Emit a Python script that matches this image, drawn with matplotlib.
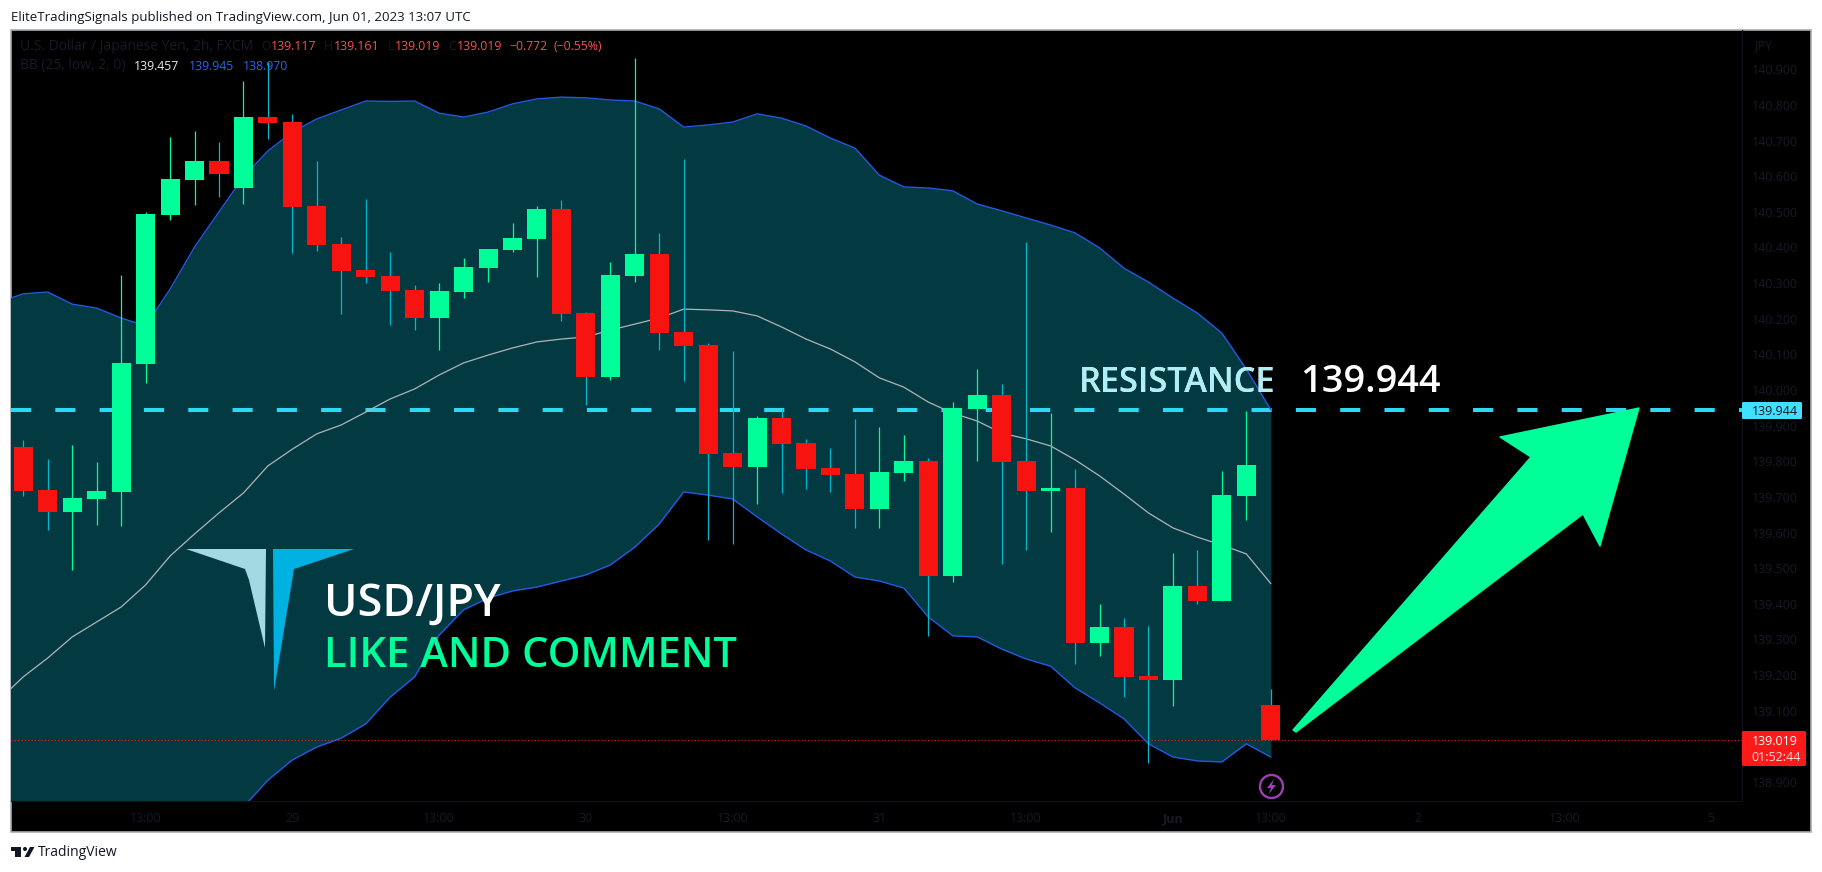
import numpy as np
import matplotlib
matplotlib.use("Agg")
import matplotlib.pyplot as plt
from matplotlib.patches import Polygon, Rectangle, Circle, FancyBboxPatch

# 2h USD/JPY candles
opens = [139.840, 139.719, 139.657, 139.694, 139.714, 140.073, 140.491, 140.589, 140.643, 140.567,
         140.766, 140.752, 140.516, 140.410, 140.337, 140.320, 140.281, 140.202, 140.275, 140.342,
         140.393, 140.424, 140.508, 140.216, 140.037, 140.320, 140.382, 140.163, 140.126, 139.823,
         139.784, 139.921, 139.851, 139.781, 139.764, 139.666, 139.767, 139.801, 139.478, 139.947,
         139.986, 139.801, 139.716, 139.725, 139.290, 139.335, 139.198, 139.186, 139.450, 139.408,
         139.703, 139.117]
highs = [139.860, 139.807, 139.846, 139.798, 140.323, 140.500, 140.710, 140.727, 140.696, 140.867,
         140.921, 140.775, 140.643, 140.429, 140.536, 140.387, 140.295, 140.300, 140.371, 140.396,
         140.469, 140.516, 140.533, 140.219, 140.359, 140.932, 140.441, 140.648, 140.132, 140.110,
         139.927, 139.947, 139.862, 139.837, 139.919, 139.896, 139.874, 139.809, 139.966, 140.059,
         140.017, 140.415, 139.935, 139.778, 139.399, 139.360, 139.338, 139.543, 139.551, 139.773,
         139.941, 139.161]
lows = [139.702, 139.607, 139.495, 139.621, 139.618, 140.020, 140.477, 140.519, 140.542, 140.522,
        140.705, 140.385, 140.390, 140.213, 140.300, 140.182, 140.168, 140.112, 140.258, 140.303,
        140.387, 140.317, 140.194, 139.958, 140.028, 140.303, 140.112, 140.025, 139.579, 139.568,
        139.680, 139.711, 139.722, 139.714, 139.613, 139.613, 139.745, 139.310, 139.461, 139.801,
        139.512, 139.551, 139.602, 139.231, 139.254, 139.138, 138.953, 139.113, 139.400, 139.408,
        139.635, 139.019]
closes = [139.716, 139.657, 139.697, 139.716, 140.076, 140.494, 140.592, 140.643, 140.606, 140.766,
          140.749, 140.514, 140.407, 140.334, 140.317, 140.278, 140.202, 140.278, 140.345, 140.396,
          140.427, 140.508, 140.213, 140.037, 140.323, 140.382, 140.160, 140.124, 139.820, 139.784,
          139.921, 139.849, 139.778, 139.761, 139.666, 139.770, 139.801, 139.478, 139.949, 139.986,
          139.798, 139.716, 139.725, 139.290, 139.335, 139.195, 139.186, 139.450, 139.408, 139.705,
          139.790, 139.019]

# bollinger bands, the first value is the bar left of the first candle
bb_upper = [140.247, 140.270, 140.275, 140.241, 140.230, 140.202, 140.180, 140.283, 140.401, 140.500,
            140.598, 140.671, 140.724, 140.761, 140.786, 140.811, 140.810, 140.811, 140.777, 140.766,
            140.780, 140.803, 140.817, 140.822, 140.820, 140.814, 140.811, 140.789, 140.738, 140.744,
            140.752, 140.775, 140.763, 140.741, 140.707, 140.679, 140.603, 140.570, 140.567, 140.559,
            140.522, 140.503, 140.483, 140.463, 140.441, 140.399, 140.342, 140.303, 140.258, 140.216,
            140.160, 140.059, 139.945]
bb_mid = [139.130, 139.195, 139.248, 139.307, 139.349, 139.391, 139.453, 139.534, 139.596, 139.655,
          139.711, 139.787, 139.834, 139.877, 139.902, 139.938, 139.975, 140.003, 140.042, 140.076,
          140.098, 140.118, 140.135, 140.143, 140.149, 140.168, 140.185, 140.202, 140.227, 140.225,
          140.222, 140.208, 140.177, 140.143, 140.115, 140.079, 140.034, 140.008, 139.966, 139.935,
          139.913, 139.879, 139.863, 139.843, 139.804, 139.759, 139.708, 139.655, 139.613, 139.587,
          139.565, 139.540, 139.457]
bb_lower = [138.610, 138.600, 138.600, 138.600, 138.610, 138.620, 138.640, 138.680, 138.720, 138.770,
            138.830, 138.905, 138.962, 138.998, 139.023, 139.063, 139.138, 139.195, 139.312, 139.383,
            139.416, 139.436, 139.447, 139.464, 139.481, 139.509, 139.559, 139.624, 139.714, 139.705,
            139.694, 139.644, 139.596, 139.551, 139.520, 139.475, 139.464, 139.444, 139.363, 139.310,
            139.307, 139.273, 139.245, 139.225, 139.164, 139.122, 139.077, 139.007, 138.970, 138.959,
            138.956, 139.007, 138.970]

price_ticks = [138.9, 139.0, 139.1, 139.2, 139.3, 139.4, 139.5, 139.6, 139.7, 139.8, 139.9,
               140.0, 140.1, 140.2, 140.3, 140.4, 140.5, 140.6, 140.7, 140.8, 140.9]
# 139.0 sits behind the last price label so it is not printed
hidden_price_ticks = [139.0]
time_tick_bars = [5, 11, 17, 23, 29, 35, 41, 47, 51, 57, 63, 69]
time_tick_labels = ["13:00", "29", "13:00", "30", "13:00", "31", "13:00", "Jun", "13:00", "2", "13:00", "5"]

resistance = 139.944
last_price = 139.019

GREEN = "#00ff99"
RED = "#f7130f"
RED_WICK = "#00b8d0"
FILL = "#033a42"
BLUE = "#2359e0"
FAINT = "#171b26"
LEGEND_RED = "#f5514f"

W, H = 1822, 872
FONT = "Open Sans"
plt.rcParams["font.family"] = FONT

fig = plt.figure(figsize=(W / 100, H / 100), dpi=100, facecolor="white")

# background axes in pixels, black panel with its gray frame
bg = fig.add_axes([0, 0, 1, 1], zorder=0)
bg.set_xlim(0, W)
bg.set_ylim(H, 0)
bg.axis("off")
bg.add_patch(Rectangle((11, 30), 1800, 802, fc="black", ec="#a8abb3", lw=1.2))

# main chart, scales chosen so 0.1 price is 35.6 px and a bar is 24.46 px
left, right, top, bottom = 11, 1742, 30, 801
ax = fig.add_axes([left / W, 1 - bottom / H, (right - left) / W, (bottom - top) / H], zorder=1)
ax.set_facecolor("none")
ax.set_xlim((left - 23.3) / 24.46, (right - 23.3) / 24.46)
ax.set_ylim(138.8465, 141.0104)
for s in ["left", "top"]:
    ax.spines[s].set_visible(False)
ax.spines["right"].set_color("#101218")
ax.spines["bottom"].set_color("#101218")
ax.spines["right"].set_linewidth(0.8)
ax.spines["bottom"].set_linewidth(0.8)

bars = np.arange(len(opens))
band_bars = np.arange(-1, len(opens))
band = ax.fill_between(band_bars, bb_lower, bb_upper, color=FILL, lw=0, zorder=1)
ax.plot(band_bars, bb_upper, color=BLUE, lw=1.0, zorder=4)
ax.plot(band_bars, bb_lower, color=BLUE, lw=1.0, zorder=4)
ax.plot(band_bars, bb_mid, color="#aeb4b8", lw=0.9, zorder=4)

ax.axhline(last_price, color="#ff1a1a", lw=0.8, ls=(0, (1, 2)), zorder=2)
ax.axhline(resistance, color="#2bd9f2", lw=2.9, ls=(0, (5, 6)), zorder=2)

opens_a, closes_a = np.array(opens), np.array(closes)
up = closes_a >= opens_a
ax.vlines(bars[up], np.array(lows)[up], np.array(highs)[up], color=GREEN, lw=0.9, zorder=5)
ax.vlines(bars[~up], np.array(lows)[~up], np.array(highs)[~up], color=RED_WICK, lw=0.9, zorder=5)
ax.bar(bars[up], (closes_a - opens_a)[up], bottom=opens_a[up], width=0.78, color=GREEN, lw=0, zorder=6)
ax.bar(bars[~up], (opens_a - closes_a)[~up], bottom=closes_a[~up], width=0.78, color=RED, lw=0, zorder=6)

ax.yaxis.tick_right()
ax.set_yticks(price_ticks)
ax.set_yticklabels(["" if p in hidden_price_ticks else f"{p:.3f}" for p in price_ticks])
ax.set_xticks(time_tick_bars)
ax.set_xticklabels(time_tick_labels)
ax.tick_params(axis="y", length=0, pad=7, labelsize=9, labelcolor=FAINT)
ax.tick_params(axis="x", length=0, pad=8, labelsize=9, labelcolor=FAINT)
for lab in ax.get_xticklabels():
    if lab.get_text() == "Jun":
        lab.set_fontweight("bold")

# overlay in pixels for drawings and labels
ov = fig.add_axes([0, 0, 1, 1], zorder=2)
ov.set_xlim(0, W)
ov.set_ylim(H, 0)
ov.axis("off")
ov.patch.set_visible(False)

ov.text(11, 17, "EliteTradingSignals published on TradingView.com, Jun 01, 2023 13:07 UTC",
        fontsize=9.5, color="#131722", va="center")

# legend rows
ov.text(20, 47, "U.S. Dollar / Japanese Yen, 2h, FXCM", fontsize=10, color=FAINT, va="center")
legend_row = [(261, "O", FAINT), (271, "139.117", LEGEND_RED), (324, "H", FAINT), (334, "139.161", LEGEND_RED),
              (388, "L", FAINT), (395, "139.019", LEGEND_RED), (448, "C", FAINT), (457, "139.019", LEGEND_RED),
              (509, "\u22120.772", LEGEND_RED), (554, "(\u22120.55%)", LEGEND_RED)]
for x, s, c in legend_row:
    ov.text(x, 47, s, fontsize=8.8, color=c, va="center")
ov.text(20, 66, "BB (25, low, 2, 0)", fontsize=10, color=FAINT, va="center")
ov.text(134, 66, "139.457", fontsize=8.8, color="#e8eaec", va="center")
ov.text(189, 66, "139.945", fontsize=8.8, color="#2962ff", va="center")
ov.text(243, 66, "138.970", fontsize=8.8, color="#2962ff", va="center")
ov.text(1754, 46, "JPY", fontsize=9, color=FAINT, va="center")

# logo
ov.add_patch(Polygon([(186, 549), (266, 549), (265, 648), (249, 580), (245, 569)], fc="#a3d9e3", lw=0))
ov.add_patch(Polygon([(273, 549), (354, 549), (294, 569), (274, 691)], fc="#00b1e1", lw=0))

ov.text(324, 616, "USD/JPY", fontsize=32.4, fontweight="semibold", color="white", va="baseline")
ov.text(324, 667, "LIKE AND COMMENT", fontsize=30.1, fontweight="semibold", color=GREEN, va="baseline")

# resistance label, white on black and pale over the band
res_white = ov.text(1079, 392, "RESISTANCE", fontsize=24.7, fontweight="semibold", color="white", va="baseline")
res_pale = ov.text(1079, 392, "RESISTANCE", fontsize=24.7, fontweight="semibold", color="#aeeef5", va="baseline")
res_pale.set_clip_on(True)
res_pale.set_clip_path(band.get_paths()[0], transform=ax.transData)
ov.text(1300, 392, "139.944", fontsize=27.3, fontweight="semibold", color="white", va="baseline")

# arrow
ov.add_patch(Polygon([(1639, 408), (1600, 546), (1583, 514), (1296, 732), (1293, 730),
                      (1531, 457), (1500, 437)], fc=GREEN, ec=GREEN, lw=1, joinstyle="round"))

# price labels on the scale
ov.add_patch(FancyBboxPatch((1742, 402), 60, 17, boxstyle="round,pad=0,rounding_size=1.5", fc="#40e0ff", lw=0))
ov.text(1752, 411, "139.944", fontsize=9, color="#131722", va="center")
ov.add_patch(FancyBboxPatch((1742, 731), 64, 35, boxstyle="round,pad=0,rounding_size=1.5", fc="#ff1a1a", lw=0))
ov.text(1752, 741, "139.019", fontsize=9, color="white", va="center")
ov.text(1751, 757, "01:52:44", fontsize=9, color="#ffd8d8", va="center")

# lightning mark under the last bar
ov.add_patch(Circle((1271.5, 786.5), 11.5, fc="none", ec="#9c3fb5", lw=1.7))
ov.add_patch(Polygon([(1274, 779), (1267, 788), (1271, 788), (1269, 794), (1276, 785), (1272, 785)],
                     fc="#9c3fb5", lw=0))

# footer
ov.add_patch(Rectangle((11, 847), 10, 4, fc="#131722", lw=0))
ov.add_patch(Rectangle((15, 851), 6, 6, fc="#131722", lw=0))
ov.add_patch(Circle((25, 849), 2, fc="#131722", lw=0))
ov.add_patch(Polygon([(30, 847), (34.5, 847), (29, 857), (24.5, 857)], fc="#131722", lw=0))
ov.text(38, 852, "TradingView", fontsize=10, color="#131722", va="center")

fig.savefig("out.png", dpi=100, facecolor="white")
